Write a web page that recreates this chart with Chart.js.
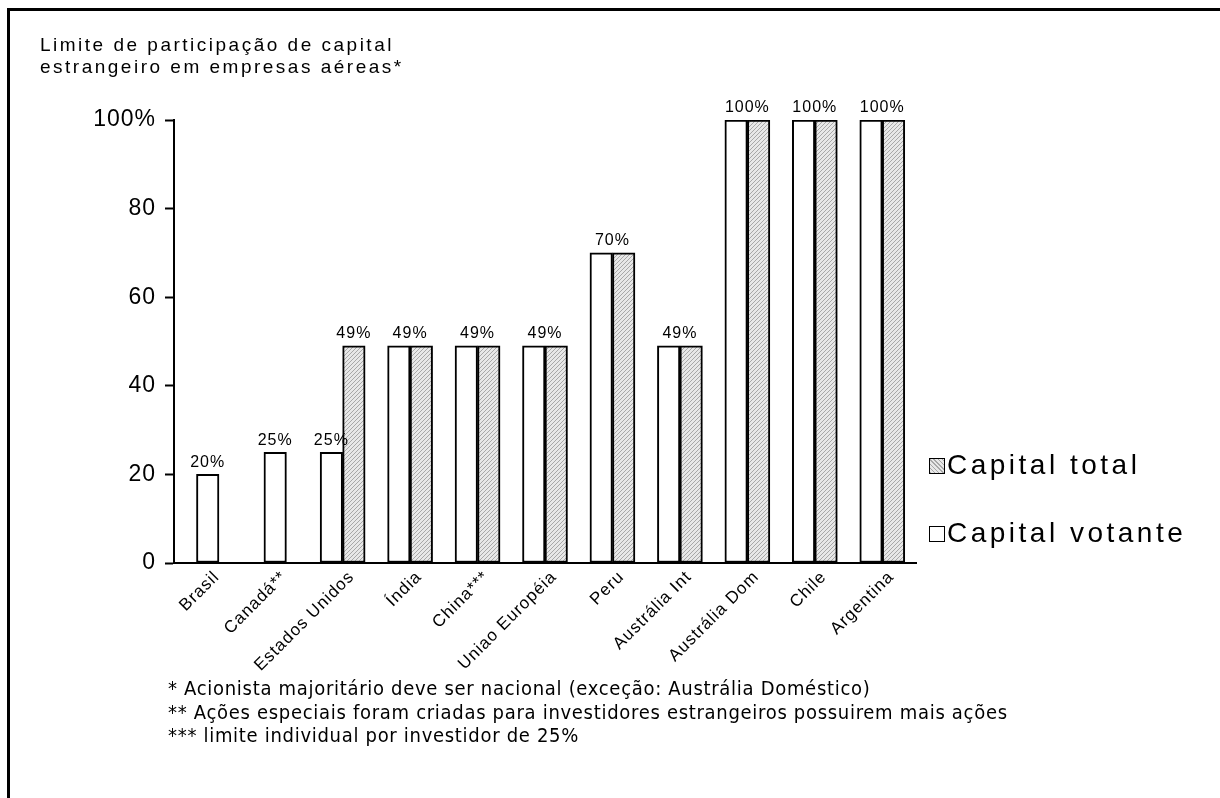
<!DOCTYPE html>
<html>
<head>
<meta charset="utf-8">
<script src="https://cdn.jsdelivr.net/npm/chart.js@4.4.1/dist/chart.umd.min.js"></script>
<style>
  html, body { margin: 0; padding: 0; background: #fff; }
  #wrap { position: relative; width: 1220px; height: 798px; overflow: hidden; font-family: "Liberation Sans", Arial, sans-serif; color: #000; }
  #frame { position: absolute; left: 7px; top: 8px; width: 1211px; height: 800px; border-top: 3px solid #000; border-left: 3px solid #000; border-right: 1px solid #000; }
  #myChart { position: absolute; left: 0; top: 0; }
  #title { position: absolute; left: 40px; top: 34px; font-size: 19px; line-height: 22px; letter-spacing: 2.5px; }
  #legend { position: absolute; left: 929px; top: 449px; font-size: 28px; letter-spacing: 3.5px; }
  #legend div { height: 68px; display: flex; align-items: flex-start; }
  #legend span.box { display: inline-block; width: 14px; height: 14px; border: 1.5px solid #000; margin-top: 9px; margin-right: 2px; background: #fff; }
  #legend span.box.hatch { background: repeating-linear-gradient(45deg, #a8a8a8 0 1px, #e8e8e8 1px 3px); }
  #notes { position: absolute; left: 168px; top: 677px; font-family: "Liberation Sans Narrow", "DejaVu Sans Condensed", sans-serif; font-size: 20px; line-height: 23.5px; letter-spacing: 0.7px; }
</style>
</head>
<body>
<div id="wrap">
  <div id="frame"></div>
  <canvas id="myChart" width="1220" height="798"></canvas>
  <div id="title">Limite de participação de capital<br>estrangeiro em empresas aéreas*</div>
  <div id="legend">
    <div><span class="box hatch"></span>Capital total</div>
    <div><span class="box"></span>Capital votante</div>
  </div>
  <div id="notes">
    * Acionista majoritário deve ser nacional (exceção: Austrália Doméstico)<br>
    ** Ações especiais foram criadas para investidores estrangeiros possuirem mais ações<br>
    *** limite individual por investidor de 25%
  </div>
</div>
<script>
const categories = ['Brasil', 'Canadá**', 'Estados Unidos', 'Índia', 'China***', 'Uniao Européia', 'Peru', 'Austrália Int', 'Austrália Dom', 'Chile', 'Argentina'];
const capitalVotante = [20, 25, 25, 49, 49, 49, 70, 49, 100, 100, 100];
const capitalTotal = [null, null, 49, 49, 49, 49, 70, 49, 100, 100, 100];
const yTicks = [0, 20, 40, 60, 80, 100];

const chart = document.getElementById('myChart');

// padrão hachurado cinza das barras de capital total
function makeHatch() {
    const c = document.createElement('canvas');
    c.width = 4; c.height = 4;
    const p = c.getContext('2d');
    p.fillStyle = '#e8e8e8';
    p.fillRect(0, 0, 4, 4);
    p.fillStyle = '#a8a8a8';
    for (let i = 0; i < 4; i++) p.fillRect(i, 3 - i, 1, 1);
    return p.createPattern(c, 'repeat');
}

const spacing = {
    id: 'spacing',
    beforeLayout(ch) { ch.ctx.letterSpacing = '1px'; },
    beforeDraw(ch) { ch.ctx.letterSpacing = '1px'; }
};

// rótulos de valor acima das barras
const valueLabels = {
    id: 'valueLabels',
    afterDatasetsDraw(ch) {
        const ctx = ch.ctx;
        const bars0 = ch.getDatasetMeta(0).data;
        const bars1 = ch.getDatasetMeta(1).data;
        ctx.save();
        ctx.font = '16px "Liberation Sans", Arial, sans-serif';
        ctx.fillStyle = '#000';
        ctx.textAlign = 'center';
        ctx.textBaseline = 'bottom';
        categories.forEach((c, i) => {
            const v = capitalVotante[i], t = capitalTotal[i];
            if (t === null) {
                ctx.fillText(v + '%', bars0[i].x, bars0[i].y - 4);
            } else if (v === t) {
                ctx.fillText(v + '%', (bars0[i].x + bars1[i].x) / 2, bars0[i].y - 4);
            } else {
                ctx.fillText(v + '%', bars0[i].x, bars0[i].y - 4);
                ctx.fillText(t + '%', bars1[i].x, bars1[i].y - 4);
            }
        });
        ctx.restore();
    }
};

const hatch = makeHatch();

const data = {
    labels: categories,
    datasets: [{
        label: 'Capital votante',
        data: capitalVotante,
        backgroundColor: '#ffffff',
        borderColor: '#000',
        borderWidth: 2,
        borderSkipped: false
    }, {
        label: 'Capital total',
        data: capitalTotal,
        backgroundColor: hatch,
        borderColor: '#000',
        borderWidth: 2,
        borderSkipped: false
    }]
};

const config = {
    type: 'bar',
    data: data,
    options: {
        responsive: false,
        animation: false,
        skipNull: true,
        datasets: { bar: { barThickness: 22.5 } },
        layout: { padding: { left: 0, top: 120, right: 304, bottom: 0 } },
        plugins: {
            legend: { display: false },
            tooltip: { enabled: false }
        },
        scales: {
            x: {
                grid: { display: false },
                border: { display: true, color: '#000', width: 2 },
                ticks: {
                    color: '#000',
                    maxRotation: 45,
                    minRotation: 45,
                    padding: -4,
                    labelOffset: 9,
                    font: { family: '"Liberation Sans", Arial, sans-serif', size: 17 }
                },
                afterFit(scale) { scale.height = 235; }
            },
            y: {
                min: 0,
                max: 100,
                afterBuildTicks(scale) { scale.ticks = yTicks.map(v => ({ value: v })); },
                grid: { drawOnChartArea: false, drawTicks: true, tickLength: 9, color: '#000', tickWidth: 2 },
                border: { display: true, color: '#000', width: 2 },
                ticks: {
                    color: '#000',
                    padding: 9,
                    font: { family: '"Liberation Sans", Arial, sans-serif', size: 23 },
                    callback: (v) => v === 100 ? '100%' : v
                },
                afterFit(scale) { scale.width = 174; }
            }
        }
    },
    plugins: [spacing, valueLabels]
};

const myChart = new Chart(chart, config);
</script>
</body>
</html>
